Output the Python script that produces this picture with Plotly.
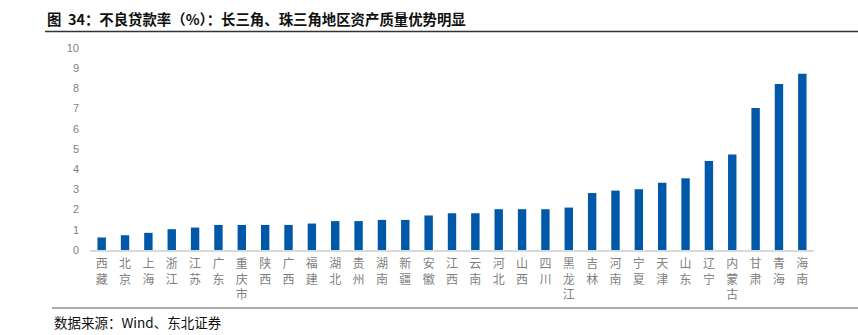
import plotly.graph_objects as go

provinces = ["西藏", "北京", "上海", "浙江", "江苏", "广东", "重庆市", "陕西", "广西", "福建",
             "湖北", "贵州", "湖南", "新疆", "安徽", "江西", "云南", "河北", "山西", "四川",
             "黑龙江", "吉林", "河南", "宁夏", "天津", "山东", "辽宁", "内蒙古", "甘肃", "青海", "海南"]
npl_ratio = [0.62, 0.73, 0.85, 1.03, 1.11, 1.24, 1.24, 1.24, 1.24, 1.31,
             1.43, 1.43, 1.49, 1.49, 1.71, 1.82, 1.82, 2.02, 2.02, 2.02,
             2.10, 2.82, 2.94, 3.01, 3.33, 3.55, 4.41, 4.73, 7.03, 8.22, 8.73]
y_ticks = [0, 1, 2, 3, 4, 5, 6, 7, 8, 9, 10]

title_text = "图  34：不良贷款率（%）：长三角、珠三角地区资产质量优势明显"
source_text = "数据来源：Wind、东北证券"

W, H = 858, 335
L, R, T, B = 90, 44, 48, 85
pw, ph = W - L - R, H - T - B

def px_x(x):
    return (x - L) / pw

def px_y(y):
    return (H - B - y) / ph

tick_text = ["<br>".join(list(p)) for p in provinces]

fig = go.Figure(go.Bar(
    x=provinces, y=npl_ratio,
    marker=dict(color="#0058A8", line=dict(width=0)),
))

fig.update_layout(
    width=W, height=H,
    margin=dict(l=L, r=R, t=T, b=B),
    paper_bgcolor="white", plot_bgcolor="white",
    bargap=0.64,
    showlegend=False,
    font=dict(family="Noto Sans CJK SC", color="#7f7f7f"),
    xaxis=dict(
        tickmode="array", tickvals=provinces, ticktext=tick_text,
        tickfont=dict(size=12, color="#7f7f7f", family="Noto Sans CJK SC"),
        showline=True, linecolor="#d9d9d9", linewidth=1.5,
        ticks="", showgrid=False, ticklabelstandoff=2,
    ),
    yaxis=dict(
        range=[0, 10], tickvals=y_ticks,
        tickfont=dict(size=11, color="#7f7f7f", family="Liberation Sans"),
        showline=False, showgrid=False, zeroline=False,
        ticks="", ticklabelstandoff=10,
    ),
    shapes=[
        dict(type="line", xref="paper", yref="paper",
             x0=px_x(45), x1=px_x(858), y0=px_y(31.5), y1=px_y(31.5),
             line=dict(color="#333333", width=1.5)),
        dict(type="line", xref="paper", yref="paper",
             x0=px_x(52), x1=px_x(858), y0=px_y(308), y1=px_y(308),
             line=dict(color="#555555", width=1.2)),
    ],
    annotations=[
        dict(text="<b>" + title_text + "</b>", xref="paper", yref="paper",
             x=px_x(45), y=px_y(18), xanchor="left", yanchor="middle",
             showarrow=False, font=dict(size=14.4, color="#111111", family="Noto Sans CJK SC")),
        dict(text=source_text, xref="paper", yref="paper",
             x=px_x(52), y=px_y(322), xanchor="left", yanchor="middle",
             showarrow=False, font=dict(size=13.5, color="#111111", family="Noto Sans CJK SC")),
    ],
)

fig.write_html("out.html")
